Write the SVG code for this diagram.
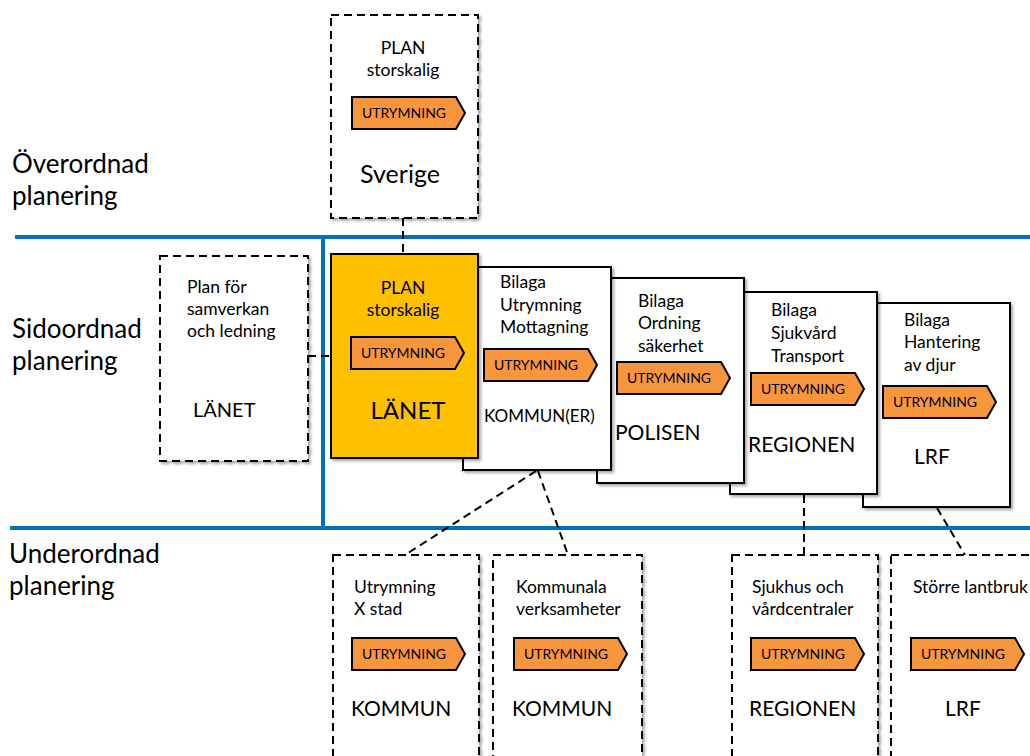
<svg xmlns="http://www.w3.org/2000/svg" xmlns:xlink="http://www.w3.org/1999/xlink" width="1030" height="756" viewBox="0 0 1030 756">
<style>
text{font-family:Lato,"Liberation Sans",sans-serif;fill:#000}
.lbl{font-size:26px}
.sm{font-size:17.5px}
.big{font-size:21px}
.tt{font-size:14px;text-anchor:middle}
.tag{fill:#F7963C;stroke:#000;stroke-width:2}
.dash{fill:#fff;stroke:#000;stroke-width:2;stroke-dasharray:8 5;filter:url(#sh)}
.solid{fill:#fff;stroke:#000;stroke-width:2;filter:url(#sh)}
.conn{fill:none;stroke:#000;stroke-width:2;stroke-dasharray:8 5}
.blue{stroke:#0070C0;stroke-width:4;fill:none}
</style>
<defs>
<filter id="sh" x="-10%" y="-10%" width="130%" height="130%">
<feDropShadow dx="2" dy="2" stdDeviation="1.5" flood-color="#000" flood-opacity="0.35"/>
</filter>
<path id="tag" class="tag" d="M0,0 H104 L113,16 L104,32 H0 Z"/>
</defs>
<rect width="1030" height="756" fill="#fff"/>

<g id="levels">
<text class="lbl" x="12" y="173">Överordnad</text>
<text class="lbl" x="12" y="205">planering</text>
<text class="lbl" x="12" y="338">Sidoordnad</text>
<text class="lbl" x="12" y="370">planering</text>
<text class="lbl" x="9" y="563">Underordnad</text>
<text class="lbl" x="9" y="595">planering</text>
<path class="blue" d="M15,237 H1030 M10,528 H1030 M323,237 V528"/>
</g>

<g id="connectors">
<path class="conn" d="M403,218 V254"/>
<path class="conn" d="M308,356 H330"/>
<path class="conn" d="M536,471 L405,555"/>
<path class="conn" d="M538,471 L568,555"/>
<path class="conn" d="M804,495 V555"/>
<path class="conn" d="M937,508 L965,555"/>
</g>

<g id="sverige">
<rect class="dash" x="331" y="15" width="147" height="203"/>
<text class="sm" x="403" y="54" text-anchor="middle">PLAN</text>
<text class="sm" x="403" y="76" text-anchor="middle">storskalig</text>
<use xlink:href="#tag" x="352" y="97"/>
<text class="tt" x="404" y="118">UTRYMNING</text>
<text x="400" y="183" font-size="25" text-anchor="middle">Sverige</text>
</g>

<g id="lanet-samverkan">
<rect class="dash" x="160" y="256" width="148" height="205"/>
<text class="sm" x="187" y="293">Plan för</text>
<text class="sm" x="187" y="315">samverkan</text>
<text class="sm" x="187" y="337">och ledning</text>
<text x="193" y="417" font-size="20">LÄNET</text>
</g>

<g id="lrf-bilaga">
<rect class="solid" x="863" y="303" width="147" height="204"/>
<text class="sm" x="904" y="326">Bilaga</text>
<text class="sm" x="904" y="348">Hantering</text>
<text class="sm" x="904" y="371">av djur</text>
<use xlink:href="#tag" x="883" y="386"/>
<text class="tt" x="935" y="407">UTRYMNING</text>
<text class="big" x="932" y="464" text-anchor="middle">LRF</text>
</g>

<g id="regionen-bilaga">
<rect class="solid" x="730" y="292" width="147" height="202"/>
<text class="sm" x="771" y="316">Bilaga</text>
<text class="sm" x="771" y="339">Sjukvård</text>
<text class="sm" x="771" y="362">Transport</text>
<use xlink:href="#tag" x="751" y="373"/>
<text class="tt" x="803" y="394">UTRYMNING</text>
<text class="big" x="748" y="452">REGIONEN</text>
</g>

<g id="polisen-bilaga">
<rect class="solid" x="597" y="278" width="147" height="205"/>
<text class="sm" x="638" y="307">Bilaga</text>
<text class="sm" x="638" y="329">Ordning</text>
<text class="sm" x="638" y="352">säkerhet</text>
<use xlink:href="#tag" x="617" y="362"/>
<text class="tt" x="669" y="383">UTRYMNING</text>
<text class="big" x="615" y="440">POLISEN</text>
</g>

<g id="kommuner-bilaga">
<rect class="solid" x="463" y="267" width="148" height="203"/>
<text class="sm" x="500" y="288">Bilaga</text>
<text class="sm" x="500" y="311">Utrymning</text>
<text class="sm" x="500" y="333">Mottagning</text>
<use xlink:href="#tag" x="484" y="349"/>
<text class="tt" x="536" y="370">UTRYMNING</text>
<text x="484" y="422" font-size="17">KOMMUN(ER)</text>
</g>

<g id="lanet">
<rect x="331" y="254" width="147" height="204" fill="#FFC000" stroke="#000" stroke-width="2" filter="url(#sh)"/>
<text class="sm" x="403" y="294" text-anchor="middle">PLAN</text>
<text class="sm" x="403" y="316" text-anchor="middle">storskalig</text>
<use xlink:href="#tag" x="351" y="337"/>
<text class="tt" x="403" y="358">UTRYMNING</text>
<text x="408" y="419" font-size="24" text-anchor="middle">LÄNET</text>
</g>

<g id="kommun-xstad">
<rect class="dash" x="333" y="555" width="146" height="215"/>
<text class="sm" x="354" y="593">Utrymning</text>
<text class="sm" x="354" y="615">X stad</text>
<use xlink:href="#tag" x="352" y="638"/>
<text class="tt" x="404" y="659">UTRYMNING</text>
<text class="big" x="351" y="716">KOMMUN</text>
</g>

<g id="kommun-verksamheter">
<rect class="dash" x="493" y="555" width="149" height="215"/>
<text class="sm" x="516" y="593">Kommunala</text>
<text class="sm" x="516" y="615">verksamheter</text>
<use xlink:href="#tag" x="514" y="638"/>
<text class="tt" x="566" y="659">UTRYMNING</text>
<text class="big" x="512" y="716">KOMMUN</text>
</g>

<g id="regionen-sjukhus">
<rect class="dash" x="732" y="555" width="146" height="215"/>
<text class="sm" x="752" y="593">Sjukhus och</text>
<text class="sm" x="752" y="615">vårdcentraler</text>
<use xlink:href="#tag" x="751" y="638"/>
<text class="tt" x="803" y="659">UTRYMNING</text>
<text class="big" x="749" y="716">REGIONEN</text>
</g>

<g id="lrf-lantbruk">
<rect class="dash" x="891" y="555" width="160" height="215"/>
<text class="sm" x="913" y="593">Större lantbruk</text>
<use xlink:href="#tag" x="911" y="638"/>
<text class="tt" x="963" y="659">UTRYMNING</text>
<text class="big" x="945" y="716">LRF</text>
</g>
</svg>
